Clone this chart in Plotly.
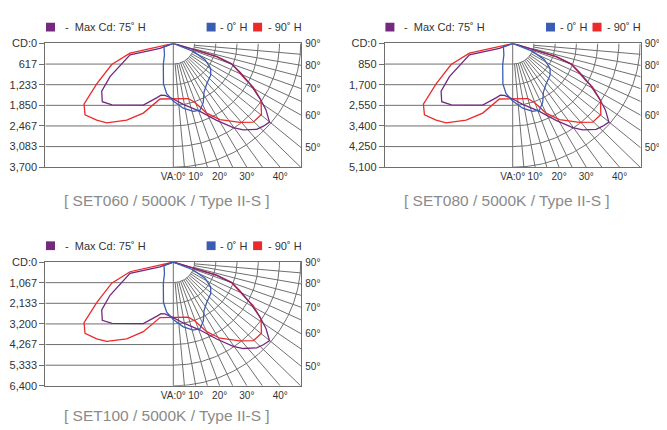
import numpy as np
import plotly.graph_objects as go

# ---------------- data ----------------
panel_titles = ["[ SET060 / 5000K / Type II-S ]",
                "[ SET080 / 5000K / Type II-S ]",
                "[ SET100 / 5000K / Type II-S ]"]
cd_ticktext_set060 = ["CD:0", "617", "1,233", "1,850", "2,467", "3,083", "3,700"]
cd_ticktext_set080 = ["CD:0", "850", "1,700", "2,550", "3,400", "4,250", "5,100"]
cd_ticktext_set100 = ["CD:0", "1,067", "2,133", "3,200", "4,267", "5,333", "6,400"]
cd_axis_max = [3700, 5100, 6400]

va_bottom_angles = [0, 10, 20, 30, 40]
va_bottom_labels = ["VA:0°", "10°", "20°", "30°", "40°"]
va_right_angles = [50, 60, 70, 80, 90]
va_right_labels = ["50°", "60°", "70°", "80°", "90°"]

legend_names = ["-  Max Cd: 75˚ H", "- 0˚ H", "- 90˚ H"]

# SET060 candela traces (x: lateral component cd, y: downward component cd)
max75_x = [0, -386, -1257, -1403, -1838, -2079, -2062, -1780, -871, -473, -357, -241, 0,
           290, 775, 1260, 1742, 2033, 2422, 2614, 2794, 2692, 2518, 2227, 1937, 1696, 1260, 581, 0]
max75_y = [0, 145, 340, 499, 993, 1429, 1742, 1835, 1841, 1618, 1545, 1551, 1661,
           1821, 2033, 2300, 2518, 2585, 2567, 2474, 2352, 1986, 1647, 1211, 862, 616, 398, 180, 0]
h90_x = [0, -290, -1257, -1789, -2224, -2593, -2564, -2224, -1934, -1353, -871, -386, 0,
         436, 630, 970, 1356, 1937, 2323, 2561, 2547, 2323, 2132, 1696, 1260, 581, 0]
h90_y = [0, 70, 290, 630, 1211, 1812, 2132, 2294, 2373, 2294, 2082, 1661, 1661,
         1647, 1763, 2082, 2277, 2358, 2352, 2126, 1705, 1307, 1115, 610, 389, 174, 0]
h0_x = [0, -270, -256, -290, -285, -192, 0, 290, 581, 775, 871, 892, 970, 1086, 1086, 921, 581, 0]
h0_y = [0, 107, 340, 630, 1211, 1501, 1719, 1937, 2033, 1995, 1763, 1452, 1211, 950, 746, 485, 238, 0]

# ---------------- style / layout ----------------
OX, OY = 8, 8            # page body margin of the browser
W, H = 667 - OX, 430 - OY
GRID = "#6f6f6f"
TXT = "#333333"
PURPLE = "#74287e"
BLUE = "#3a5cb2"
RED = "#ec2a2c"
LEG = [PURPLE, BLUE, RED]
FONT = "Liberation Sans"

HALF_W = 128.0   # px, half plot width
PH = 127.4       # px, plot height
panel_pos = [(173.3, 38.3), (512.7, 38.3), (173.3, 263.3)]  # (centre x, top y) px in window
title_dy = [161.7, 161.7, 158.4]
ticktexts = [cd_ticktext_set060, cd_ticktext_set080, cd_ticktext_set100]


def px(x):
    return (x - OX) / W


def py(y):
    return 1 - (y - OY) / H


fig = go.Figure()
shapes, annotations = [], []
lay = {}

for i in range(3):
    n = i + 1
    sfx = "" if n == 1 else str(n)
    xa, ya = "x" + sfx, "y" + sfx
    m = cd_axis_max[i]
    xr = m * HALF_W / PH
    s = m / cd_axis_max[0]
    cx, top = panel_pos[i]

    # grid: horizontal lines (left half)
    gx, gy = [], []
    for k in range(1, 6):
        gx += [-xr, 0, None]
        gy += [m * k / 6, m * k / 6, None]
    # arcs (right half)
    th = np.radians(np.arange(0, 90.5, 1.0))
    for k in range(1, 7):
        r = m * k / 6
        gx += list(r * np.sin(th)) + [None]
        gy += list(r * np.cos(th)) + [None]
    # vertical-angle lines
    gx += [0, 0, None]
    gy += [0, m, None]
    for a in range(5, 90, 5):
        t = np.radians(a)
        r0 = m / 6
        r1 = min(m / np.cos(t), xr / np.sin(t))
        gx += [r0 * np.sin(t), r1 * np.sin(t), None]
        gy += [r0 * np.cos(t), r1 * np.cos(t), None]
    fig.add_trace(go.Scatter(x=gx, y=gy, mode="lines", xaxis=xa, yaxis=ya,
                             line=dict(color=GRID, width=1), hoverinfo="skip",
                             showlegend=False))

    # curves
    for cxs, cys, col, nm in [(h90_x, h90_y, RED, legend_names[2]),
                              (max75_x, max75_y, PURPLE, legend_names[0]),
                              (h0_x, h0_y, BLUE, legend_names[1])]:
        fig.add_trace(go.Scatter(x=[v * s for v in cxs], y=[v * s for v in cys],
                                 mode="lines", xaxis=xa, yaxis=ya, name=nm,
                                 line=dict(color=col, width=1.3), showlegend=False))

    x0, x1 = cx - HALF_W, cx + HALF_W
    dom_x = [px(x0), px(x1)]
    dom_y = [py(top + PH), py(top)]
    lay["xaxis" + sfx] = dict(
        domain=dom_x, anchor=ya, range=[-xr, xr], showgrid=False, zeroline=False,
        showline=True, mirror=True, linecolor=GRID, linewidth=1,
        tickmode="array", tickvals=[m * np.tan(np.radians(a)) for a in va_bottom_angles],
        ticktext=va_bottom_labels, ticks="", tickfont=dict(size=10, color=TXT, family=FONT))
    lay["yaxis" + sfx] = dict(
        domain=dom_y, anchor=xa, range=[m, 0], showgrid=False, zeroline=False,
        showline=True, mirror=True, linecolor=GRID, linewidth=1,
        tickmode="array", tickvals=[m * k / 6 for k in range(7)], ticktext=ticktexts[i],
        ticks="outside", ticklen=5, tickcolor=GRID, tickwidth=1,
        tickfont=dict(size=11, color=TXT, family=FONT))
    rn = str(n + 3)
    lay["yaxis" + rn] = dict(
        overlaying=ya, anchor=xa, side="right", range=[m, 0], showgrid=False,
        zeroline=False, showline=False, ticks="", ticklabelstandoff=3,
        tickmode="array",
        tickvals=[xr * np.cos(np.radians(a)) / np.sin(np.radians(a)) for a in va_right_angles],
        ticktext=va_right_labels, tickfont=dict(size=10, color=TXT, family=FONT))
    fig.add_trace(go.Scatter(x=[None], y=[None], xaxis=xa, yaxis="y" + rn,
                             showlegend=False, hoverinfo="skip"))

    # legend (squares + text)
    sq = [(cx - 127.3, cx - 110.5), (cx + 33.3, cx + 45.0), (cx + 79.8, cx + 92.5)]
    for (sx, tx), col, nm in zip(sq, LEG, legend_names):
        shapes.append(dict(type="rect", xref="paper", yref="paper",
                           x0=px(sx), x1=px(sx + 9), y0=py(top - 12.3), y1=py(top - 21.3),
                           fillcolor=col, line=dict(width=0)))
        annotations.append(dict(xref="paper", yref="paper", x=px(tx), y=py(top - 16.8),
                                xanchor="left", yanchor="middle", showarrow=False,
                                text=nm, font=dict(size=11, color=TXT, family=FONT)))
    # title
    annotations.append(dict(xref="paper", yref="paper", x=px(cx - 6), y=py(top + title_dy[i]),
                            xanchor="center", yanchor="middle", showarrow=False,
                            text=panel_titles[i],
                            font=dict(size=15.5, color="#8a8a8a", family=FONT)))

fig.update_layout(width=W, height=H, autosize=False,
                  margin=dict(l=0, r=0, t=0, b=0),
                  paper_bgcolor="white", plot_bgcolor="white",
                  showlegend=False, shapes=shapes, annotations=annotations, **lay)

fig.write_html("out.html")
